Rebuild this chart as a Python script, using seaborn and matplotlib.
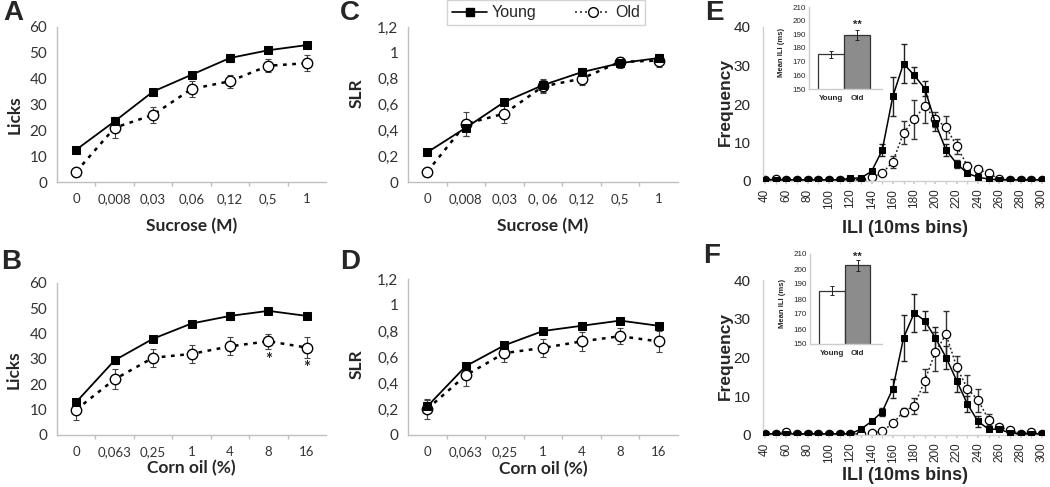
import numpy as np
import pandas as pd
import matplotlib.pyplot as plt
import seaborn as sns
from matplotlib.lines import Line2D

W, H = 1050, 487

# ---- data: panels A-D ----
sucrose_a = ["0", "0,008", "0,03", "0,06", "0,12", "0,5", "1"]
sucrose_c = ["0", "0,008", "0,03", "0, 06", "0,12", "0,5", "1"]
cornoil = ["0", "0,063", "0,25", "1", "4", "8", "16"]

licks_suc_young = [12.5, 23.5, 35, 41.5, 48, 51, 53]
licks_suc_young_err = [1, 1.5, 1, 1, 1.5, 1, 1]
licks_suc_old = [4, 21, 26, 36, 39, 45, 46]
licks_suc_old_err = [0.5, 4, 3, 3, 2.5, 2.5, 3]

licks_oil_young = [13, 29.5, 38, 44, 47, 49, 47]
licks_oil_young_err = [1, 1.5, 1, 1, 1.5, 1, 1]
licks_oil_old = [10, 22, 30.5, 32, 35, 37, 34.5]
licks_oil_old_err = [4, 4, 3.5, 3.5, 3.5, 3, 4]

slr_suc_young = [0.23, 0.42, 0.62, 0.75, 0.85, 0.92, 0.96]
slr_suc_young_err = [0.02, 0.06, 0.02, 0.05, 0.03, 0.04, 0.02]
slr_suc_old = [0.08, 0.45, 0.53, 0.74, 0.80, 0.93, 0.94]
slr_suc_old_err = [0.01, 0.09, 0.07, 0.05, 0.05, 0.04, 0.05]

slr_oil_young = [0.22, 0.53, 0.69, 0.80, 0.84, 0.88, 0.84]
slr_oil_young_err = [0.05, 0.02, 0.02, 0.02, 0.03, 0.02, 0.02]
slr_oil_old = [0.20, 0.46, 0.63, 0.67, 0.72, 0.76, 0.72]
slr_oil_old_err = [0.08, 0.08, 0.07, 0.07, 0.07, 0.06, 0.08]

licks_ticks = ["0", "10", "20", "30", "40", "50", "60"]
slr_ticks = ["0", "0,2", "0,4", "0,6", "0,8", "1", "1,2"]

# ---- data: panels E-F (ILI histograms, 10 ms bins) ----
ili_bins = list(range(40, 310, 10))
e_young = [0.3, 0.3, 0.3, 0.3, 0.3, 0.3, 0.3, 0.3, 0.7, 0.8, 2.5, 8, 22, 30.5,
           27.5, 24, 15, 8, 4.5, 2, 1, 0.5, 0.3, 0.3, 0.3, 0.3, 0.3]
e_young_err = [0, 0, 0, 0, 0, 0, 0, 0, 0, 0, 0.5, 1.5, 5, 5,
               2, 2, 2, 1.5, 1, 0.5, 0.5, 0, 0, 0, 0, 0, 0]
e_old = [0.3, 0.5, 0.3, 0.3, 0.3, 0.3, 0.3, 0.3, 0.3, 0.3, 1, 2, 5, 12.5,
         16, 19.5, 16, 14, 9, 4, 3, 2, 0.5, 0.3, 0.3, 0.3, 0.3]
e_old_err = [0, 0, 0, 0, 0, 0, 0, 0, 0, 0, 0.3, 0.5, 1.5, 3,
             5, 4.5, 2, 3, 2, 1, 1, 0.5, 0, 0, 0, 0, 0]

f_young = [0.3, 0.3, 0.3, 0.3, 0.3, 0.3, 0.3, 0.3, 0.3, 1.5, 3.5, 6, 12, 25,
           31.5, 29.5, 25, 20, 14, 8, 3.5, 1.5, 1.5, 0.5, 0.3, 0.3, 0.3]
f_young_err = [0, 0, 0, 0, 0, 0, 0, 0, 0, 0.3, 0.5, 1, 2.5, 6,
               5, 2.5, 3, 3, 3, 2, 1.5, 0.5, 0.5, 0, 0, 0, 0]
f_old = [0.3, 0.3, 0.8, 0.3, 0.3, 0.3, 0.3, 0.3, 0.3, 0.3, 0.5, 1, 3, 6,
         7.5, 14, 21.5, 26, 17.5, 12, 9, 4, 2, 1.2, 0.3, 0.8, 0.3]
f_old_err = [0, 0, 0, 0, 0, 0, 0, 0, 0, 0, 0, 0.3, 0.5, 1,
             2, 3, 5, 6, 3, 3.5, 3, 1.5, 0.5, 0.3, 0, 0, 0]

groups = ["Young", "Old"]
e_mean_ili = [175.5, 189.5]
e_mean_ili_err = [2.5, 3.5]
f_mean_ili = [185.5, 202.5]
f_mean_ili_err = [3, 3.5]
ili_inset_ticks = ["150", "160", "170", "180", "190", "200", "210"]

sns.set_theme(style="white")
plt.rcParams["font.family"] = ["Lato", "DejaVu Sans"]

fig = plt.figure(figsize=(W / 100, H / 100), dpi=100)


def rect(l, t, r, b):
    return [l / W, 1 - b / H, (r - l) / W, (b - t) / H]


def style_spines(ax, color="#bfbfbf"):
    sns.despine(ax=ax)
    for s in ["left", "bottom"]:
        ax.spines[s].set_color(color)
        ax.spines[s].set_linewidth(1)


def line_panel(ax, labels, young, young_err, old, old_err, ymax, yticklabels,
               ylabel, xlabel, ylab_xy, xlab_y):
    x = np.arange(len(labels))
    df = pd.DataFrame({"x": x, "young": young, "old": old})
    ax.errorbar(x, old, yerr=old_err, fmt="none", ecolor="#444444",
                elinewidth=0.8, capsize=2, capthick=0.8, zorder=1)
    ax.errorbar(x, young, yerr=young_err, fmt="none", ecolor="#444444",
                elinewidth=0.8, capsize=2, capthick=0.8, zorder=1)
    sns.lineplot(data=df, x="x", y="old", ax=ax, color="black",
                 linestyle=(0, (1.5, 2.2)), lw=1.8, marker="o", markersize=7.5,
                 markerfacecolor="white", markeredgecolor="black",
                 markeredgewidth=1, zorder=2)
    sns.lineplot(data=df, x="x", y="young", ax=ax, color="black", lw=1.3,
                 marker="s", markersize=6, markerfacecolor="black",
                 markeredgecolor="black", zorder=3)
    ax.set_xlim(-0.5, len(labels) - 0.5)
    ax.set_ylim(0, ymax)
    ax.set_yticks(np.linspace(0, ymax, len(yticklabels)))
    ax.set_yticklabels(yticklabels, fontsize=11, color="#333333")
    ax.set_xticks(x)
    ax.set_xticklabels(labels, fontsize=9.5, color="#333333")
    ax.set_xticks(x[:-1] + 0.5, minor=True)
    ax.tick_params(axis="x", which="major", length=0, pad=8)
    ax.tick_params(axis="x", which="minor", length=3, color="#bfbfbf",
                   width=1, direction="out", bottom=True)
    ax.tick_params(axis="y", length=0, pad=7)
    ax.set_ylabel(ylabel, fontsize=12.5, fontweight="bold")
    ax.set_xlabel(xlabel, fontsize=12.5, fontweight="bold")
    ax.yaxis.set_label_coords(*ylab_xy)
    ax.xaxis.set_label_coords(0.5, xlab_y)
    style_spines(ax)


def ili_panel(ax, young, young_err, old, old_err, ylab_y, xlab_y):
    df = pd.DataFrame({"bin": ili_bins, "young": young, "old": old})
    ax.errorbar(ili_bins, old, yerr=old_err, fmt="none", ecolor="#333333",
                elinewidth=1, capsize=2.5, capthick=1, zorder=1)
    ax.errorbar(ili_bins, young, yerr=young_err, fmt="none", ecolor="#222222",
                elinewidth=1, capsize=2.5, capthick=1, zorder=1)
    sns.lineplot(data=df, x="bin", y="old", ax=ax, color="#222222",
                 linestyle=(0, (1.2, 1.5)), lw=1.1, marker="o", markersize=6,
                 markerfacecolor="white", markeredgecolor="black",
                 markeredgewidth=0.9, zorder=2)
    sns.lineplot(data=df, x="bin", y="young", ax=ax, color="black", lw=1.1,
                 marker="s", markersize=4.8, markerfacecolor="black",
                 markeredgecolor="black", zorder=3)
    ax.set_xlim(38, 302)
    ax.set_ylim(0, 40)
    ax.set_yticks([0, 10, 20, 30, 40])
    ax.set_yticklabels(["0", "10", "20", "30", "40"], fontsize=11,
                       family="Liberation Sans")
    ax.set_xticks(ili_bins[::2])
    ax.set_xticklabels([str(b) for b in ili_bins[::2]], rotation=90,
                       fontsize=8.5, family="Liberation Sans")
    ax.set_xticks(ili_bins, minor=True)
    ax.tick_params(axis="x", which="both", length=2.5, color="#cccccc",
                   bottom=True, pad=3)
    ax.tick_params(axis="y", length=0, pad=9)
    ax.set_ylabel("Frequency", fontsize=12.5, fontweight="bold",
                  family="Liberation Sans")
    ax.set_xlabel("ILI (10ms bins)", fontsize=13, fontweight="bold",
                  family="Liberation Sans")
    ax.yaxis.set_label_coords(-0.108, ylab_y)
    ax.xaxis.set_label_coords(0.505, xlab_y)
    style_spines(ax, "#d0d0d0")


def inset_panel(ax, means, errs, star_y):
    df = pd.DataFrame({"group": groups, "mean": means})
    sns.barplot(data=df, x="group", y="mean", ax=ax, hue="group",
                palette=["white", "#8c8c8c"], edgecolor="#333333",
                linewidth=0.9, width=1.0, legend=False)
    ax.errorbar([0, 1], means, yerr=errs, fmt="none", ecolor="#222222",
                elinewidth=0.7, capsize=1.5, capthick=0.7)
    ax.set_xlim(-0.85, 1.95)
    ax.set_ylim(150, 210)
    ax.set_yticks(np.arange(150, 211, 10))
    ax.set_yticklabels(ili_inset_ticks, fontsize=5.8, family="Liberation Sans")
    ax.set_xticks([0, 1])
    ax.set_xticklabels(groups, fontsize=5.8, fontweight="bold",
                       family="Liberation Sans")
    ax.tick_params(axis="both", length=0)
    ax.tick_params(axis="y", pad=2.5)
    ax.tick_params(axis="x", pad=4)
    ax.set_xlabel("")
    ax.set_ylabel("Mean ILI (ms)", fontsize=5.5, fontweight="bold",
                  family="Liberation Sans")
    ax.yaxis.set_label_coords(-0.33, 0.45)
    ax.text(1, star_y, "**", ha="center", va="center", fontsize=8,
            fontweight="bold", family="Liberation Sans")
    style_spines(ax, "#cccccc")
    ax.patch.set_alpha(0)


ax_a = fig.add_axes(rect(57, 27, 326, 182))
line_panel(ax_a, sucrose_a, licks_suc_young, licks_suc_young_err,
           licks_suc_old, licks_suc_old_err, 60, licks_ticks,
           "Licks", "Sucrose (M)", (-0.126, 0.435), -0.232)

ax_b = fig.add_axes(rect(57, 283, 326, 435))
line_panel(ax_b, cornoil, licks_oil_young, licks_oil_young_err,
           licks_oil_old, licks_oil_old_err, 60, licks_ticks,
           "Licks", "Corn oil (%)", (-0.13, 0.43), -0.164)
for xi, yi in [(5, 29.5), (6, 26.5)]:
    ax_b.text(xi, yi, "*", ha="center", va="center", fontsize=12,
              fontweight="bold", color="#222222")

ax_c = fig.add_axes(rect(408, 27, 678, 182))
line_panel(ax_c, sucrose_c, slr_suc_young, slr_suc_young_err,
           slr_suc_old, slr_suc_old_err, 1.2, slr_ticks,
           "SLR", "Sucrose (M)", (-0.159, 0.57), -0.232)

ax_d = fig.add_axes(rect(408, 279, 678, 435))
line_panel(ax_d, cornoil, slr_oil_young, slr_oil_young_err,
           slr_oil_old, slr_oil_old_err, 1.2, slr_ticks,
           "SLR", "Corn oil (%)", (-0.159, 0.455), -0.164)

ax_e = fig.add_axes(rect(763, 27, 1044, 181))
ili_panel(ax_e, e_young, e_young_err, e_old, e_old_err, 0.51, -0.253)
ax_f = fig.add_axes(rect(763, 280, 1044, 435))
ili_panel(ax_f, f_young, f_young_err, f_old, f_old_err, 0.51, -0.206)

ins_e = fig.add_axes(rect(809, 7, 882, 89))
inset_panel(ins_e, e_mean_ili, e_mean_ili_err, 197)
ins_f = fig.add_axes(rect(810, 254, 882, 344))
inset_panel(ins_f, f_mean_ili, f_mean_ili_err, 208)

# shared legend
handles = [
    Line2D([], [], color="black", lw=1.2, marker="s", markersize=6),
    Line2D([], [], color="#333333", lw=1.2, linestyle=(0, (1.2, 1.8)),
           marker="o", markersize=7, markerfacecolor="white",
           markeredgecolor="black"),
]
leg = fig.legend(handles, groups, loc="lower center",
                 bbox_to_anchor=(546 / W, 1 - 25 / H), ncol=2,
                 prop={"family": "Liberation Sans", "size": 11.5},
                 handlelength=2.2, columnspacing=2.4, handletextpad=0.3,
                 borderpad=0.3, borderaxespad=0, fancybox=False,
                 frameon=True)
leg.get_frame().set_edgecolor("#c8c8c8")
leg.get_frame().set_linewidth(1)

# panel letters
for letter, (px, py) in {"A": (3, 0), "B": (1, 249), "C": (340, 0),
                         "D": (340, 249), "E": (705, 0), "F": (703, 243)}.items():
    fig.text(px / W, 1 - py / H, letter, ha="left", va="top", fontsize=20,
             fontweight="bold", family="Liberation Sans")

fig.savefig("out.png", dpi=100, facecolor="white")
